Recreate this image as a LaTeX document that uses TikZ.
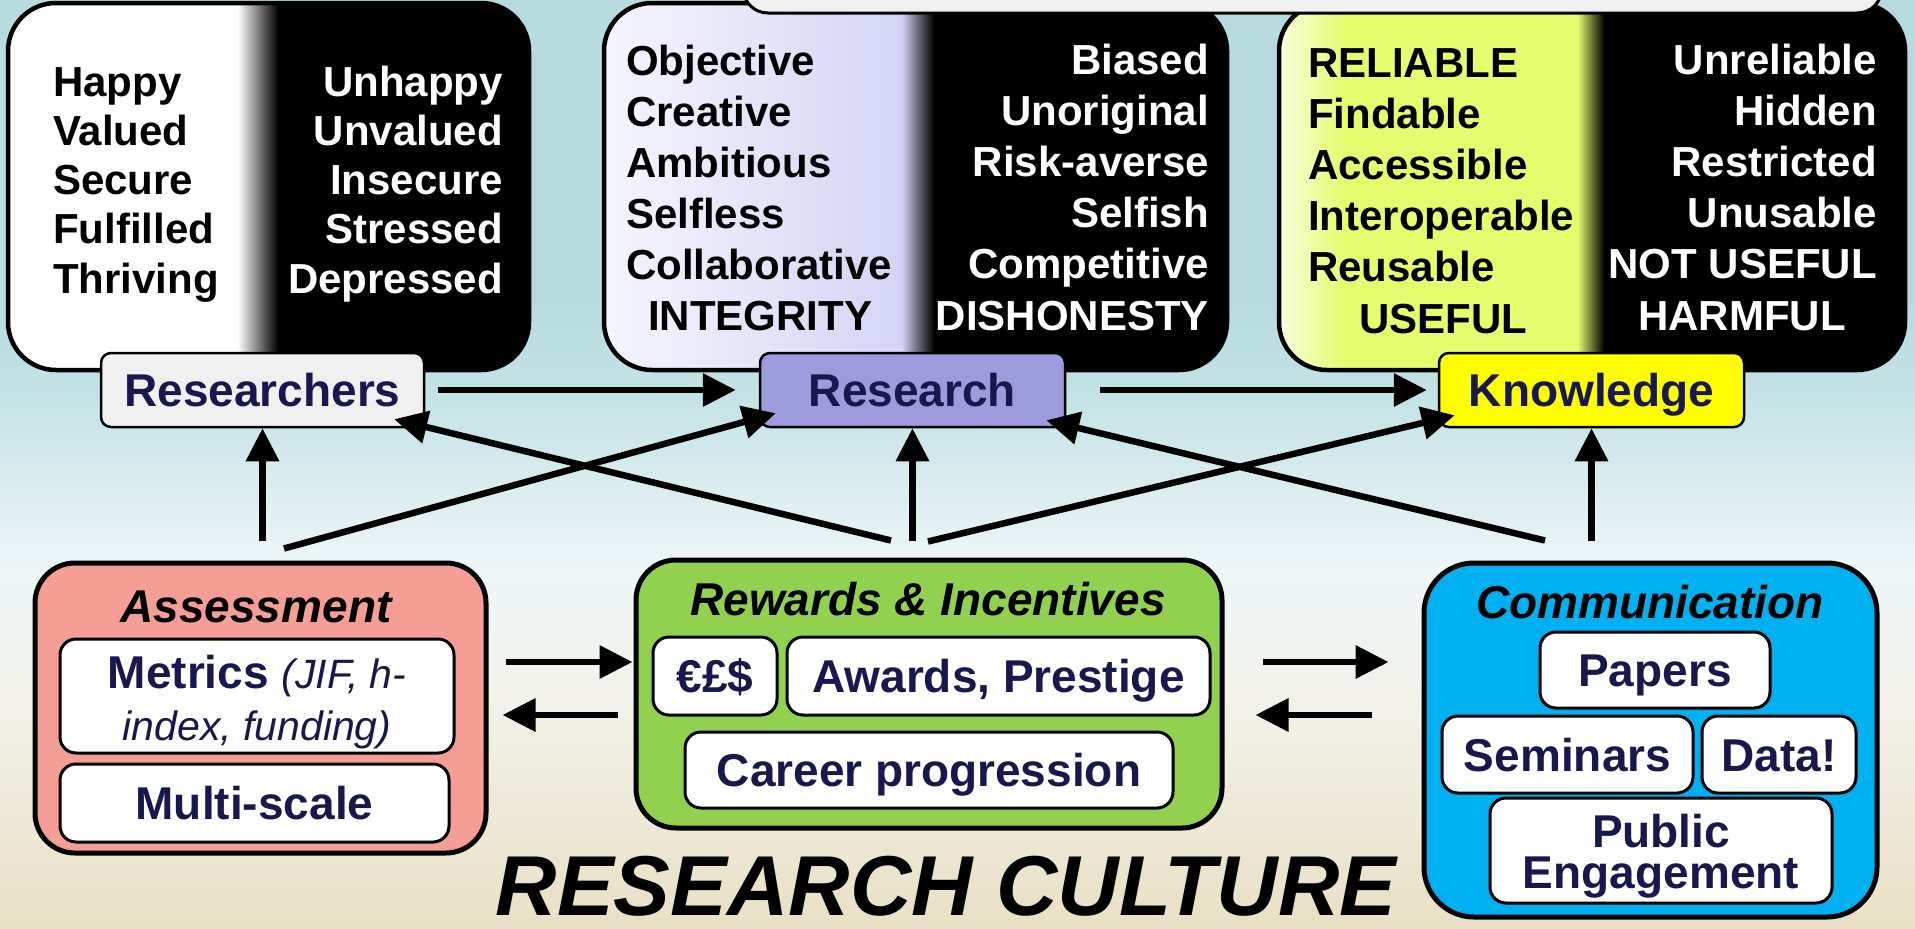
\documentclass[tikz,border=0pt]{standalone}
\usepackage{fontspec}
\setmainfont{Liberation Sans}
\usetikzlibrary{arrows.meta,calc}

\definecolor{bgA}{RGB}{183,219,223}
\definecolor{bgB}{RGB}{196,227,230}
\definecolor{bgC}{RGB}{238,246,248}
\definecolor{bgD}{RGB}{242,242,234}
\definecolor{bgE}{RGB}{233,224,196}
\definecolor{navy}{RGB}{24,24,78}
\definecolor{lavL}{RGB}{246,246,254}
\definecolor{lavR}{RGB}{212,212,246}
\definecolor{limL}{RGB}{250,255,228}
\definecolor{limR}{RGB}{229,252,110}
\definecolor{lblgrey}{RGB}{240,240,240}
\definecolor{lblpurple}{RGB}{156,156,221}
\definecolor{lblyellow}{RGB}{255,255,0}
\definecolor{salmon}{RGB}{245,158,150}
\definecolor{leaf}{RGB}{146,208,80}
\definecolor{sky}{RGB}{0,176,240}

\newcommand\setfs[1]{\fontsize{#1}{#1}\selectfont}

\tikzset{
  panelline/.style={draw=black, line width=4.5pt, rounded corners=48pt},
  ptxt/.style={font=\setfs{42}\bfseries, inner sep=0pt},
  ltxt/.style={ptxt, text=black},
  dtxt/.style={ptxt, text=white},
  lbl/.style={draw=black, line width=2.5pt, rounded corners=10pt,
    minimum height=74pt, inner sep=0pt, font=\setfs{46}\bfseries,
    text=navy, text height=33pt, text depth=0pt},
  group/.style={draw=black, line width=5pt, rounded corners=40pt, inner sep=0pt},
  ttl/.style={font=\setfs{46}\bfseries\itshape, text=black, inner sep=0pt, anchor=base},
  inbox/.style={draw=black, fill=white, line width=3pt, rounded corners=16pt,
    inner sep=0pt, font=\setfs{46}\bfseries, text=navy},
  oneline/.style={text height=33pt, text depth=0pt},
  boxtxt/.style={font=\setfs{46}\bfseries, text=navy, inner sep=0pt, anchor=base,
    text depth=0pt},
  arr/.style={line width=6.5pt, -{Triangle[length=33pt,width=32pt]}},
}

\begin{document}
\begin{tikzpicture}[x=1pt,y=-1pt]
\useasboundingbox (0,0) rectangle (1915,929);
\clip (0,0) rectangle (1915,929);

% background wash
\fill[bgA] (0,0) rectangle (1915,300);
\shade[top color=bgA, bottom color=bgB] (0,299) rectangle (1915,400);
\shade[top color=bgB, bottom color=bgC] (0,399) rectangle (1915,570);
\shade[top color=bgC, bottom color=bgD] (0,569) rectangle (1915,700);
\shade[top color=bgD, bottom color=bgE] (0,699) rectangle (1915,929);

% researchers panel: good side / bad side
\begin{scope}
  \clip[rounded corners=48pt] (8,3) rectangle (529,370);
  \fill[white] (0,0) rectangle (238,380);
  \shade[left color=white, right color=black] (237.5,0) rectangle (278,380);
  \fill[black] (277.5,0) rectangle (540,380);
\end{scope}
\draw[panelline] (8,3) rectangle (529,370);

% research panel
\begin{scope}
  \clip[rounded corners=48pt] (604,3) rectangle (1227,370);
  \shade[left color=lavL, right color=lavR] (600,0) rectangle (902,380);
  \shade[left color=lavR, right color=black] (901.5,0) rectangle (934,380);
  \fill[black] (933.5,0) rectangle (1240,380);
\end{scope}
\draw[panelline] (604,3) rectangle (1227,370);

% knowledge panel
\begin{scope}
  \clip[rounded corners=48pt] (1279,3) rectangle (1905,370);
  \shade[left color=limL, right color=limR] (1275,0) rectangle (1345,380);
  \fill[limR] (1344.5,0) rectangle (1578,380);
  \shade[left color=limR, right color=black] (1577.5,0) rectangle (1604,380);
  \fill[black] (1603.5,0) rectangle (1915,380);
\end{scope}
\draw[panelline] (1279,3) rectangle (1905,370);

% banner across the top edge
\draw[fill=lblgrey, line width=3pt, rounded corners=25pt] (743,-60) rectangle (1882,13);

% panel word lists
\foreach \w [count=\i] in {Happy,Valued,Secure,Fulfilled,Thriving}
  \node[ltxt, anchor=base west] (hL\i) at (53,{96+49.3*(\i-1)}) {\w};
\foreach \w [count=\i] in {Unhappy,Unvalued,Insecure,Stressed,Depressed}
  \node[dtxt, anchor=base east] (hR\i) at (503,{96+49.3*(\i-1)}) {\w};

\foreach \w [count=\i] in {Objective,Creative,Ambitious,Selfless,Collaborative}
  \node[ltxt, anchor=base west] (rL\i) at (626,{75+51*(\i-1)}) {\w};
\node[ltxt, anchor=base] (rL6) at (760,330) {INTEGRITY};
\foreach \w [count=\i] in {Biased,Unoriginal,Risk-averse,Selfish,Competitive,DISHONESTY}
  \node[dtxt, anchor=base east] (rR\i) at (1209,{74+51.2*(\i-1)}) {\w};

\foreach \w [count=\i] in {RELIABLE,Findable,Accessible,Interoperable,Reusable}
  \node[ltxt, anchor=base west] (kL\i) at (1308,{77+51.2*(\i-1)}) {\w};
\node[ltxt, anchor=base] (kL6) at (1443,333) {USEFUL};
\foreach \w [count=\i] in {Unreliable,Hidden,Restricted,Unusable,NOT USEFUL}
  \node[dtxt, anchor=base east] (kR\i) at (1877,{74+51.2*(\i-1)}) {\w};
\node[dtxt, anchor=base] (kR6) at (1742,330) {HARMFUL};

% the three outcomes
\node[lbl, fill=lblgrey, minimum width=323pt] (res) at (262.5,390) {Researchers};
\node[lbl, fill=lblpurple, minimum width=305pt] (rsch) at (912.5,390) {Research};
\node[lbl, fill=lblyellow, minimum width=305pt] (know) at (1591.5,390) {Knowledge};

% the three drivers
\node[group, fill=salmon, minimum width=451pt, minimum height=290pt] (asmt) at (260.5,708) {};
\node[group, fill=leaf, minimum width=586pt, minimum height=268pt] (rwd) at (929,694) {};
\node[group, fill=sky, rounded corners=50pt, minimum width=453pt, minimum height=354pt] (comm) at (1650.5,740) {};

\node[ttl] (asmtT) at (256,622) {Assessment};
\node[ttl] (rwdT) at (928,615) {Rewards \& Incentives};
\node[ttl] (commT) at (1650,618) {Communication};

\node[inbox, minimum width=394pt, minimum height=114pt] (metr) at (257,696) {};
\node[boxtxt] (metrA) at (257,688)
  {Metrics {\mdseries\itshape\setfs{41}(JIF, h-}};
\node[boxtxt, font=\setfs{41}\itshape] (metrB) at (257,740) {index, funding)};
\node[inbox, oneline, minimum width=389pt, minimum height=78pt] (mscale) at (254.5,803) {Multi-scale};

\node[inbox, oneline, minimum width=124pt, minimum height=78pt] (money) at (715,676) {€£\$};
\node[inbox, oneline, minimum width=423pt, minimum height=78pt] (awards) at (998.5,676) {Awards, Prestige};
\node[inbox, oneline, minimum width=488pt, minimum height=76pt] (career) at (929,770) {Career progression};

\node[inbox, oneline, minimum width=230pt, minimum height=76pt] (papers) at (1655,670) {Papers};
\node[inbox, oneline, minimum width=251pt, minimum height=77pt] (semin) at (1567.5,754.5) {Seminars};
\node[inbox, oneline, minimum width=154pt, minimum height=77pt] (data) at (1779,754.5) {Data!};
\node[inbox, minimum width=342pt, minimum height=105pt] (pubeng) at (1661,850.5) {};
\node[boxtxt] (pubA) at (1661,847) {Public};
\node[boxtxt] (pubB) at (1661,888) {Engagement};

% links between the outcomes
\draw[arr] ($(res.east)+(13,0)$) -- ($(rsch.west)+(-23,0)$);
\draw[arr] ($(rsch.east)+(34,0)$) -- ($(know.west)+(-11,0)$);

% drivers acting on the outcomes
\draw[arr] ($(res.south |- asmt.north)+(0,-20)$) -- (res.south);
\draw[arr] ($(rsch.south |- rwd.north)+(0,-17)$) -- (rsch.south);
\draw[arr] ($(know.south |- comm.north)+(0,-20)$) -- (know.south);
\draw[arr] ($(asmt.north)+(23.5,-12)$) -- ($(rsch.south west)+(17,-15)$);
\draw[arr] ($(rwd.north)+(-38,-17)$) -- ($(res.south east)+(-31,-9)$);
\draw[arr] ($(rwd.north)+(-1,-16)$) -- ($(know.south west)+(17,-13)$);
\draw[arr] ($(comm.north)+(-105.5,-20)$) -- ($(rsch.south east)+(-20,-8)$);

% feedback between the drivers
\coordinate (hA) at (0,662);
\coordinate (hB) at (0,715);
\draw[arr] ($(asmt.east |- hA)+(17,0)$) -- ($(rwd.west |- hA)+(-1,0)$);
\draw[arr] ($(rwd.west |- hB)+(-16,0)$) -- ($(asmt.east |- hB)+(14,0)$);
\draw[arr] ($(rwd.east |- hA)+(38,0)$) -- ($(comm.west |- hA)+(-33,0)$);
\draw[arr] ($(comm.west |- hB)+(-50,0)$) -- ($(rwd.east |- hB)+(31,0)$);

\node[font=\setfs{85}\bfseries\itshape, inner sep=0pt, anchor=base] (culture) at (946,915) {RESEARCH CULTURE};
\end{tikzpicture}
\end{document}
